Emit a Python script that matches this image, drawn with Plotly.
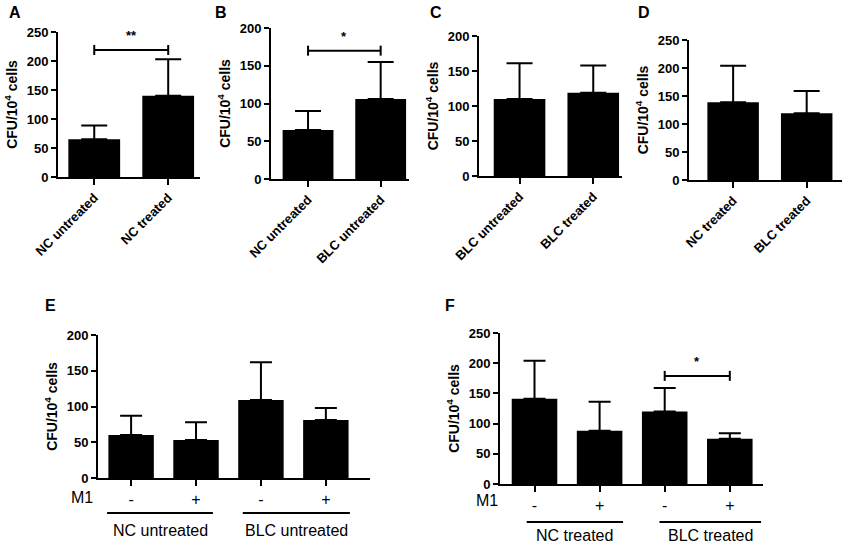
"""
Six-panel CFU bar chart (A-F): CFU per 10^4 cells, mean + upper SD.
"""

import plotly.graph_objects as go

W, H = 851, 548

# Panel data: means and upper error (SD)
a_labels = ["NC untreated", "NC treated"]
a_means = [65, 140]
a_err = [24, 63]

b_labels = ["NC untreated", "BLC untreated"]
b_means = [65, 106]
b_err = [25, 49]

c_labels = ["BLC untreated", "BLC treated"]
c_means = [110, 119]
c_err = [51, 39]

d_labels = ["NC treated", "BLC treated"]
d_means = [139, 119]
d_err = [65, 40]

e_m1 = ["-", "+", "-", "+"]
e_groups = ["NC untreated", "BLC untreated"]
e_means = [60, 53, 109, 81]
e_err = [27, 25, 53, 17]

f_m1 = ["-", "+", "-", "+"]
f_groups = ["NC treated", "BLC treated"]
f_means = [141, 88, 120, 75]
f_err = [63, 48, 39, 9]

# significance: (panel, left bar, right bar, height, label)
sig_marks = [("a", 0, 1, 219, "**"), ("b", 0, 1, 170, "*"), ("f", 2, 3, 179, "*")]

FONT = "Liberation Sans, Arial, sans-serif"


def px_x(p):
    return p / W


def px_y(p):
    return 1 - p / H


# panel geometry in pixels: x0, x1, ytop, ybottom, ymax, xrange
panels = {
    "a": dict(box=(58, 200, 32, 177), ymax=250, dtick=50, xr=[-0.49, 1.43], letter="A", lpos=(15, 13)),
    "b": dict(box=(271, 409, 28, 179), ymax=200, dtick=50, xr=[-0.51, 1.39], letter="B", lpos=(221, 13)),
    "c": dict(box=(479, 622, 36, 176), ymax=200, dtick=50, xr=[-0.55, 1.39], letter="C", lpos=(436, 13)),
    "d": dict(box=(689, 842, 40, 180), ymax=250, dtick=50, xr=[-0.60, 1.48], letter="D", lpos=(644, 13)),
    "e": dict(box=(98, 370, 335, 478), ymax=200, dtick=50, xr=[-0.51, 3.68], letter="E", lpos=(50, 305)),
    "f": dict(box=(500, 763, 333, 484), ymax=250, dtick=50, xr=[-0.53, 3.51], letter="F", lpos=(450, 305)),
}

series = {
    "a": (a_labels, a_means, a_err),
    "b": (b_labels, b_means, b_err),
    "c": (c_labels, c_means, c_err),
    "d": (d_labels, d_means, d_err),
    "e": (e_m1, e_means, e_err),
    "f": (f_m1, f_means, f_err),
}

fig = go.Figure()
layout = {}
annotations = []
shapes = []

for i, key in enumerate(["a", "b", "c", "d", "e", "f"], start=1):
    p = panels[key]
    labels, means, err = series[key]
    suffix = "" if i == 1 else str(i)
    x0, x1, yt, yb = p["box"]
    xs = list(range(len(means)))

    fig.add_trace(go.Bar(
        x=xs,
        y=means,
        width=0.7,
        marker={"color": "black", "line": {"width": 0}},
        error_y={
            "type": "data",
            "symmetric": False,
            "array": err,
            "arrayminus": [0] * len(err),
            "color": "black",
            "thickness": 2,
            "width": 13 if key in ("a", "b", "c", "d") else 11,
        },
        xaxis="x" + suffix,
        yaxis="y" + suffix,
        showlegend=False,
        hoverinfo="skip",
    ))

    grouped = key in ("e", "f")
    layout["xaxis" + suffix] = {
        "domain": [px_x(x0), px_x(x1)],
        "anchor": "y" + suffix,
        "range": p["xr"],
        "automargin": False,
        "tickmode": "array",
        "tickvals": xs,
        "ticktext": labels,
        "tickangle": 0 if grouped else -45,
        "ticks": "outside",
        "ticklen": 6,
        "tickwidth": 2,
        "tickcolor": "black",
        "tickfont": ({"family": FONT, "size": 16, "color": "black"} if grouped
                     else {"family": FONT, "size": 13, "color": "black", "weight": "bold"}),
        "showline": True,
        "linecolor": "black",
        "linewidth": 2,
        "showgrid": False,
        "zeroline": False,
        "fixedrange": True,
    }
    layout["yaxis" + suffix] = {
        "domain": [px_y(yb), px_y(yt)],
        "anchor": "x" + suffix,
        "range": [0, p["ymax"]],
        "dtick": p["dtick"],
        "automargin": False,
        "ticks": "outside",
        "ticklen": 5,
        "tickwidth": 2,
        "tickcolor": "black",
        "tickfont": {"family": FONT, "size": 13, "color": "black", "weight": "bold"},
        "title": {"text": "CFU/10<sup>4</sup> cells",
                  "font": {"family": FONT, "size": 14, "color": "black", "weight": "bold"},
                  "standoff": 6},
        "showline": True,
        "linecolor": "black",
        "linewidth": 2,
        "showgrid": False,
        "zeroline": False,
        "fixedrange": True,
    }

    annotations.append(dict(
        x=px_x(p["lpos"][0]), y=px_y(p["lpos"][1]), xref="paper", yref="paper",
        xanchor="center", yanchor="middle",
        text=p["letter"], showarrow=False,
        font={"family": FONT, "size": 16, "color": "black", "weight": "bold"},
    ))

# significance brackets
for key, left, right, height, label in sig_marks:
    idx = ["a", "b", "c", "d", "e", "f"].index(key) + 1
    suffix = "" if idx == 1 else str(idx)
    shapes.append(dict(type="line", xref="x" + suffix, yref="y" + suffix,
                       x0=left, x1=right, y0=height, y1=height,
                       line={"color": "black", "width": 2}))
    for xe in (left, right):
        shapes.append(dict(type="line", xref="x" + suffix, yref="y" + suffix,
                           ysizemode="pixel", yanchor=height, y0=-5, y1=5,
                           x0=xe, x1=xe, line={"color": "black", "width": 2}))
    annotations.append(dict(x=(left + right) / 2, y=height, xref="x" + suffix, yref="y" + suffix,
                            xanchor="center", yanchor="middle",
                            text=label, showarrow=False, yshift=14,
                            font={"family": FONT, "size": 13, "color": "black", "weight": "bold"}))

# M1 row and group underlines for E and F
group_spans = {
    "e": dict(suffix="5", spans=[(-0.37, 1.26), (1.72, 3.37)], line_y=513, label_y=530, m1=(95, 498)),
    "f": dict(suffix="6", spans=[(-0.12, 1.36), (1.92, 3.48)], line_y=522, label_y=535, m1=(500, 500)),
}
group_names = {"e": e_groups, "f": f_groups}

for key, g in group_spans.items():
    annotations.append(dict(
        x=px_x(g["m1"][0]), y=px_y(g["m1"][1]), xref="paper", yref="paper",
        text="M1", showarrow=False, xanchor="right", yanchor="middle",
        font={"family": FONT, "size": 16, "color": "black"},
    ))
    for (s0, s1), name in zip(g["spans"], group_names[key]):
        shapes.append(dict(type="line", xref="x" + g["suffix"], yref="paper",
                           x0=s0, x1=s1, y0=px_y(g["line_y"]), y1=px_y(g["line_y"]),
                           line={"color": "black", "width": 2}))
        annotations.append(dict(
            x=(s0 + s1) / 2, y=px_y(g["label_y"]), xref="x" + g["suffix"], yref="paper",
            xanchor="center", yanchor="middle",
            text=name, showarrow=False,
            font={"family": FONT, "size": 16, "color": "black"},
        ))

fig.update_layout(
    width=W,
    height=H,
    margin={"l": 0, "r": 0, "t": 0, "b": 0, "pad": 0, "autoexpand": False},
    paper_bgcolor="white",
    plot_bgcolor="white",
    showlegend=False,
    bargap=0.3,
    hovermode=False,
    annotations=annotations,
    shapes=shapes,
    **layout,
)

# page body has a default 8px margin; drop it so the figure sits at the window corner
fig.write_html("out.html", config={"displayModeBar": False},
               post_script="document.body.style.margin='0';")
